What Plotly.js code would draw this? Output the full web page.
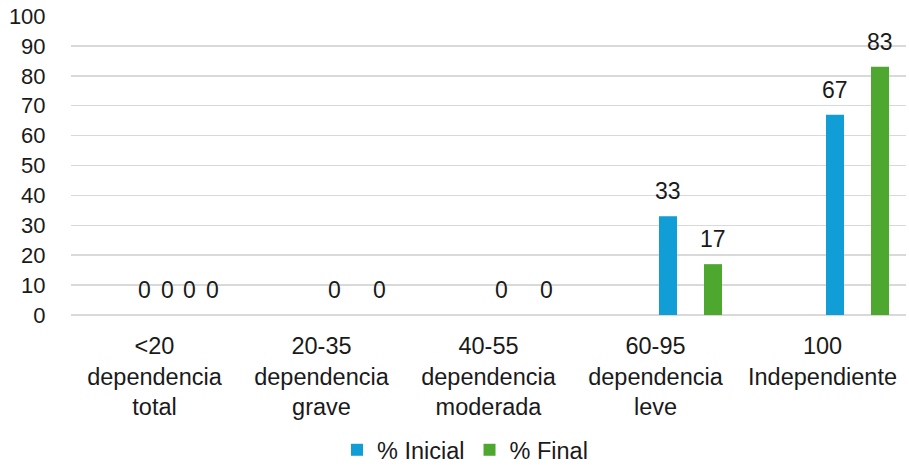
<!DOCTYPE html>
<html>
<head>
<meta charset="utf-8">
<script src="https://cdn.plot.ly/plotly-3.0.1.min.js"></script>
<style>
  html, body { margin: 0; padding: 0; background: #fff; }
  #chart { width: 909px; height: 467px; }
</style>
</head>
<body>
<div id="chart"></div>
<script>
// Categorías del índice de Barthel
const categories = [
  '&lt;20<br>dependencia<br>total',
  '20-35<br>dependencia<br>grave',
  '40-55<br>dependencia<br>moderada',
  '60-95<br>dependencia<br>leve',
  '100<br>Independiente'
];

// Porcentajes por serie
const inicial = [0, 0, 0, 33, 67];
const final   = [0, 0, 0, 17, 83];
const serie3  = [0, null, null, null, null];
const serie5  = [0, null, null, null, null];

const yTicks = [0, 10, 20, 30, 40, 50, 60, 70, 80, 90, 100];

// Geometry of the plot area (pixels)
const W = 909, H = 467;
const M = { l: 71, r: 3, t: 16, b: 152 };
const plotW = W - M.l - M.r;
const catPx = plotW / categories.length;
const barPx = 18;        // bar width
const slotPx = 22.5;     // distance between neighbouring series slots
const firstSlotPx = -10; // centre of slot 3 relative to category centre

const FONT = 'Liberation Sans, Arial, sans-serif';
const INK = '#1a1a1a';
const BLUE = '#119ed6';
const GREEN = '#4ea72e';

// slot index 0 -> serie 3, 1 -> % Inicial, 2 -> serie 5, 3 -> % Final
const series = [
  { name: 'Serie 3', values: serie3, slot: 0, color: BLUE, legend: false },
  { name: '% Inicial', values: inicial, slot: 1, color: BLUE, legend: true },
  { name: 'Serie 5', values: serie5, slot: 2, color: GREEN, legend: false },
  { name: '% Final', values: final, slot: 3, color: GREEN, legend: true }
];

const slotCenter = s => (firstSlotPx + s.slot * slotPx) / catPx;
const widthCat = barPx / catPx;

const traces = series.map(s => ({
  type: 'bar',
  name: s.name,
  x: categories,
  y: s.values,
  offset: slotCenter(s) - widthCat / 2,
  width: widthCat,
  marker: { color: s.color, line: { width: 0 } },
  showlegend: s.legend,
  hoverinfo: 'skip'
}));

// Value labels above each bar
const annotations = [];
series.forEach(s => {
  s.values.forEach((v, i) => {
    if (v === null) return;
    annotations.push({
      xref: 'x', yref: 'y',
      x: i + slotCenter(s), y: v,
      text: String(v),
      showarrow: false,
      xanchor: 'center', yanchor: 'middle',
      yshift: 25,
      font: { family: FONT, size: 23, color: INK }
    });
  });
});

const layout = {
  width: W, height: H,
  margin: M,
  paper_bgcolor: '#ffffff',
  plot_bgcolor: '#ffffff',
  barmode: 'overlay',
  showlegend: true,
  font: { family: FONT, size: 22, color: INK },
  xaxis: {
    type: 'category',
    range: [-0.5, categories.length - 0.5],
    showgrid: false,
    showline: false,
    zeroline: false,
    ticks: 'outside', ticklen: 10, tickcolor: 'rgba(0,0,0,0)',
    tickfont: { family: FONT, size: 23.5, color: INK },
    fixedrange: true
  },
  yaxis: {
    range: [0, 100],
    tickvals: yTicks,
    ticktext: yTicks.map(String),
    showgrid: true,
    gridcolor: '#d9d9d9', gridwidth: 1.5,
    zeroline: true, zerolinecolor: '#d9d9d9', zerolinewidth: 1.5,
    showline: false,
    ticks: 'outside', ticklen: 20, tickcolor: 'rgba(0,0,0,0)',
    tickfont: { family: FONT, size: 22, color: INK },
    fixedrange: true
  },
  legend: {
    orientation: 'h',
    xref: 'paper', yref: 'container',
    x: (357 - M.l - 20) / plotW, xanchor: 'left',
    y: (H - 450) / H, yanchor: 'middle',
    font: { family: FONT, size: 23.5, color: INK },
    itemwidth: 30,
    traceorder: 'normal'
  },
  annotations: annotations
};

Plotly.newPlot('chart', traces, layout, { displayModeBar: false, staticPlot: true });
</script>
</body>
</html>
